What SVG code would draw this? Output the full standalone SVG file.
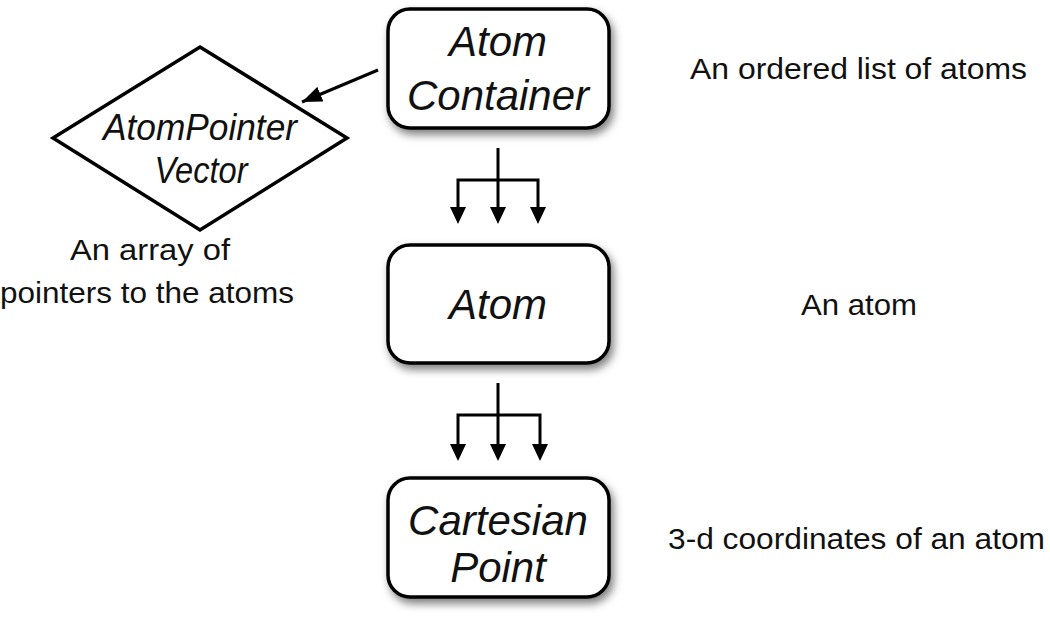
<svg xmlns="http://www.w3.org/2000/svg" width="1050" height="622" viewBox="0 0 1050 622">
<style>
.box{fill:#fff;stroke:#000;stroke-width:3.5;filter:url(#sh)}
.nt{font-family:"Liberation Sans",Arial,sans-serif;font-style:italic;font-size:42px;text-anchor:middle;fill:#111}
.dt{font-family:"Liberation Sans",Arial,sans-serif;font-style:italic;font-size:37px;text-anchor:middle;fill:#111}
.lb{font-family:"Liberation Sans",Arial,sans-serif;font-size:29px;fill:#111}
.ln{fill:none;stroke:#000;stroke-width:3}
</style>
<defs>
<filter id="sh" x="-20%" y="-20%" width="140%" height="150%">
<feDropShadow dx="3" dy="5" stdDeviation="4" flood-color="#000" flood-opacity="0.5"/>
</filter>
<marker id="ah2" viewBox="0 0 10 10" refX="10" refY="5" markerWidth="20" markerHeight="16" orient="auto" markerUnits="userSpaceOnUse" preserveAspectRatio="none">
<path d="M0,0 L10,5 L0,10 z" fill="#000"/>
</marker>
</defs>
<rect width="1050" height="622" fill="#fff"/>
<g id="atomcontainer">
<rect class="box" x="388" y="9" width="221" height="119" rx="22"/>
<text class="nt" x="498" y="56">Atom</text>
<text class="nt" x="498" y="110">Container</text>
</g>
<g id="atom">
<rect class="box" x="388" y="245" width="221" height="118" rx="22"/>
<text class="nt" x="498" y="319">Atom</text>
</g>
<g id="cartesianpoint">
<rect class="box" x="388" y="478" width="221" height="119" rx="22"/>
<text class="nt" x="498" y="535">Cartesian</text>
<text class="nt" x="498" y="582">Point</text>
</g>
<g id="atompointervector">
<polygon points="200,47 347,138 200,230 53,138" fill="#fff" stroke="#000" stroke-width="3.5"/>
<text class="dt" x="200" y="140" textLength="194" lengthAdjust="spacingAndGlyphs">AtomPointer</text>
<text class="dt" x="201" y="183" textLength="93" lengthAdjust="spacingAndGlyphs">Vector</text>
</g>
<g id="labels">
<text class="lb" x="690" y="79" textLength="337" lengthAdjust="spacingAndGlyphs">An ordered list of atoms</text>
<text class="lb" x="801" y="315" textLength="116" lengthAdjust="spacingAndGlyphs">An atom</text>
<text class="lb" x="668" y="549" textLength="377" lengthAdjust="spacingAndGlyphs">3-d coordinates of an atom</text>
<text class="lb" x="70" y="260" textLength="160" lengthAdjust="spacingAndGlyphs">An array of</text>
<text class="lb" x="0" y="303" textLength="294" lengthAdjust="spacingAndGlyphs">pointers to the atoms</text>
</g>
<g id="connectors">
<line class="ln" x1="378" y1="70" x2="302" y2="102" stroke-width="2.5" marker-end="url(#ah2)"/>
<path class="ln" d="M498,148 V180 M458,208 V180 H538 V208"/>
<line class="ln" x1="498" y1="180" x2="498" y2="208"/>
<path d="M450,207 L466,207 L458,224 z M490,207 L506,207 L498,224 z M530,207 L546,207 L538,224 z" fill="#000"/>
<path class="ln" d="M498,383 V415 M458,445 V415 H540 V445"/>
<line class="ln" x1="498" y1="415" x2="498" y2="445"/>
<path d="M450,444 L466,444 L458,461 z M490,444 L506,444 L498,461 z M532,444 L548,444 L540,461 z" fill="#000"/>
</g>
</svg>
